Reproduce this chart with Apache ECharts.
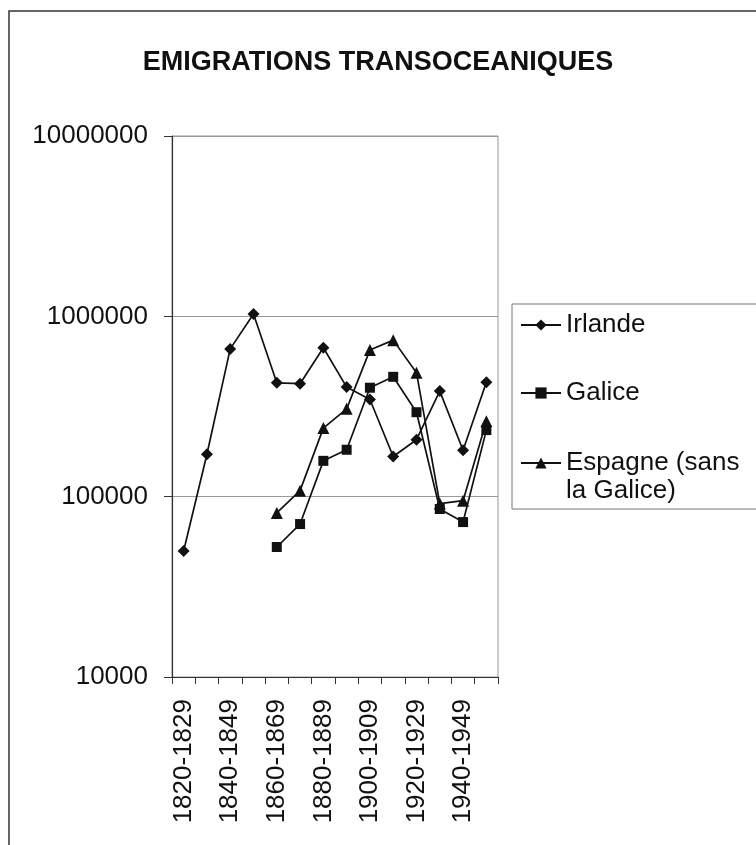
<!DOCTYPE html>
<html>
<head>
<meta charset="utf-8">
<title>Emigrations transoceaniques</title>
<script src="https://cdn.jsdelivr.net/npm/echarts@6/dist/echarts.min.js"></script>
<style>
  html, body { margin: 0; padding: 0; background: #fff; }
  #chart { width: 756px; height: 845px; }
</style>
</head>
<body>
<div id="chart"></div>
<script>
const periods = [
  '1820-1829', '1830-1839', '1840-1849', '1850-1859', '1860-1869', '1870-1879', '1880-1889',
  '1890-1899', '1900-1909', '1910-1919', '1920-1929', '1930-1939', '1940-1949', '1950-1959'
];
const irlande = [50000, 172000, 660000, 1030000, 428000, 423000, 670000, 405000, 346000, 167000, 207000, 385000, 181000, 431000];
const galice = [null, null, null, null, 52600, 70500, 158000, 182000, 402000, 462000, 294000, 85400, 72300, 234000];
const espagne = [null, null, null, null, 81200, 108000, 240000, 307000, 650000, 738000, 487000, 91500, 95000, 262000];
const seriesNames = ['Irlande', 'Galice', 'Espagne (sans la Galice)'];

const font = "'Liberation Sans', Arial, sans-serif";
const ink = '#111';

const chart = echarts.init(document.getElementById('chart'));

const lineSeries = (name, data, symbol, size) => ({
  name: name,
  type: 'line',
  data: data,
  symbol: symbol,
  symbolSize: size,
  showSymbol: true,
  connectNulls: false,
  lineStyle: { color: ink, width: 1.7 },
  itemStyle: { color: ink, borderWidth: 0 },
  emphasis: { disabled: true },
  animation: false
});

const legendBase = {
  left: 520,
  orient: 'vertical',
  itemWidth: 40,
  itemHeight: 14,
  itemGap: 0,
  padding: 0,
  selectedMode: false,
  textStyle: { fontFamily: font, fontSize: 26, color: ink, lineHeight: 28 }
};

const option = {
  backgroundColor: '#fff',
  animation: false,
  title: {
    text: 'EMIGRATIONS TRANSOCEANIQUES',
    left: 'center',
    top: 44,
    textStyle: { fontFamily: font, fontSize: 27, fontWeight: 'bold', color: ink }
  },
  graphic: [
    {
      type: 'rect',
      shape: { x: 9, y: 11, width: 800, height: 900 },
      style: { fill: 'none', stroke: '#333', lineWidth: 1.5 },
      silent: true
    },
    {
      type: 'rect',
      shape: { x: 512, y: 304, width: 300, height: 205 },
      style: { fill: 'none', stroke: '#777', lineWidth: 1 },
      silent: true
    }
  ],
  legend: [
    Object.assign({}, legendBase, { top: 311, data: [seriesNames[0]] }),
    Object.assign({}, legendBase, { top: 379, data: [seriesNames[1]] }),
    // leading empty line keeps the marker level with the first text line
    Object.assign({}, legendBase, {
      top: 421,
      data: [seriesNames[2]],
      formatter: name => '\n' + name.replace('sans ', 'sans\n')
    })
  ],
  grid: {
    left: 172,
    top: 136,
    width: 326,
    height: 541,
    show: true,
    borderColor: '#999',
    borderWidth: 1,
    containLabel: false
  },
  xAxis: {
    type: 'category',
    data: periods,
    boundaryGap: true,
    axisLine: { lineStyle: { color: '#333', width: 1.2 } },
    axisTick: { show: true, interval: 0, length: 7, lineStyle: { color: '#333' } },
    axisLabel: {
      interval: 1,
      rotate: 90,
      margin: 22,
      fontFamily: font,
      fontSize: 26,
      color: ink
    },
    splitLine: { show: false }
  },
  yAxis: {
    type: 'log',
    logBase: 10,
    min: 10000,
    max: 10000000,
    axisLine: { show: true, lineStyle: { color: '#333', width: 1.2 } },
    axisTick: { show: true, length: 8, lineStyle: { color: '#333' } },
    axisLabel: {
      margin: 24,
      fontFamily: font,
      fontSize: 26,
      color: ink,
      formatter: v => String(Math.round(v))
    },
    splitLine: { show: true, lineStyle: { color: '#999', width: 1 } },
    minorTick: { show: false }
  },
  series: [
    lineSeries(seriesNames[0], irlande, 'diamond', 12),
    lineSeries(seriesNames[1], galice, 'rect', 10),
    lineSeries(seriesNames[2], espagne, 'triangle', 12)
  ]
};

chart.setOption(option);
</script>
</body>
</html>
